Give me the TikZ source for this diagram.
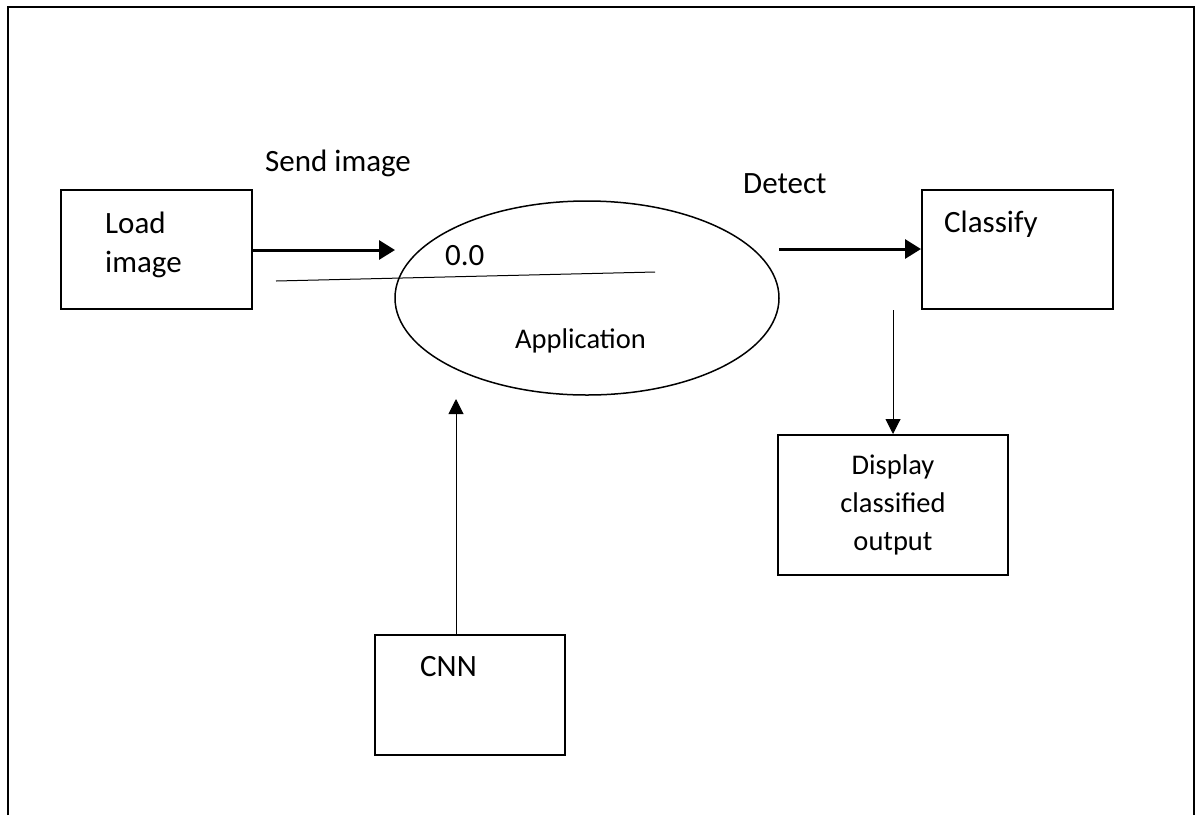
\documentclass[tikz,border=0pt]{standalone}
\usepackage{fontspec}
\setmainfont{Carlito}
\usetikzlibrary{arrows.meta,shapes.geometric}

\tikzset{
  box/.style={draw, line width=2pt, minimum width=#1, inner sep=0pt},
  lbl/.style={inner sep=0pt, font=\fontsize{31}{39}\selectfont},
  lblsmall/.style={inner sep=0pt, font=\fontsize{28.5}{38}\selectfont},
  bigflow/.style={line width=3pt, -{Triangle[length=16pt,width=19pt]}},
  thinflow/.style={line width=1pt, -{Triangle[length=15pt,width=15pt]}},
}

\begin{document}
\begin{tikzpicture}[x=1pt,y=-1pt]
\useasboundingbox (0,0) rectangle (1196,815);

% page frame (open at the bottom)
\draw[line width=2pt] (8,815) -- (8,7) -- (1194,7) -- (1194,815);

% process bubble
\node (app) [draw, line width=1.5pt, ellipse, minimum width=384pt, minimum height=194pt, inner sep=0pt] at (587,298) {};

% external entities
\node (load) [box=191pt, minimum height=119pt] at (156.5,249.5) {};
\node (classify) [box=191pt, minimum height=119pt] at (1017.5,249.5) {};
\node (display) [box=230pt, minimum height=140pt] at (893,505) {};
\node (cnn) [box=190pt, minimum height=120pt] at (470,695) {};

% labels (multi-line nodes sit on the baseline of their last line)
\node (loadtxt) [lbl, anchor=base west, align=left] at (105,272) {Load\\image};
\node (sendtxt) [lbl, anchor=base west] at (265,171) {Send image};
\node (numtxt) [lbl, anchor=base west] at (445,265) {0.0};
\node (apptxt) [lblsmall, anchor=base west] at (515,348) {Application};
\node (detecttxt) [lbl, anchor=base west] at (743,193) {Detect};
\node (classifytxt) [lbl, anchor=base west] at (944,232) {Classify};
\node (displaytxt) [lblsmall, anchor=base, align=center] at (893,550) {Display\\classified\\output};
\node (cnntxt) [lbl, anchor=base west] at (420,676) {CNN};

% connector end points
\coordinate (sendtip) at (395,250);
\coordinate (detectstart) at (779,249);
\coordinate (divl) at (276,281);
\coordinate (divr) at (655,272);
\coordinate (cnnout) at (456,635);
\coordinate (apptip) at (456,399);

% data flows
\draw[bigflow] (load.east |- sendtip) -- (sendtip);
\draw[bigflow] (detectstart) -- (classify.west |- detectstart);
\draw[line width=1pt] (divl) -- (divr);
\draw[thinflow] (classify.south -| display.north) -- (display.north);
\draw[thinflow] (cnnout) -- (apptip);
\end{tikzpicture}
\end{document}
